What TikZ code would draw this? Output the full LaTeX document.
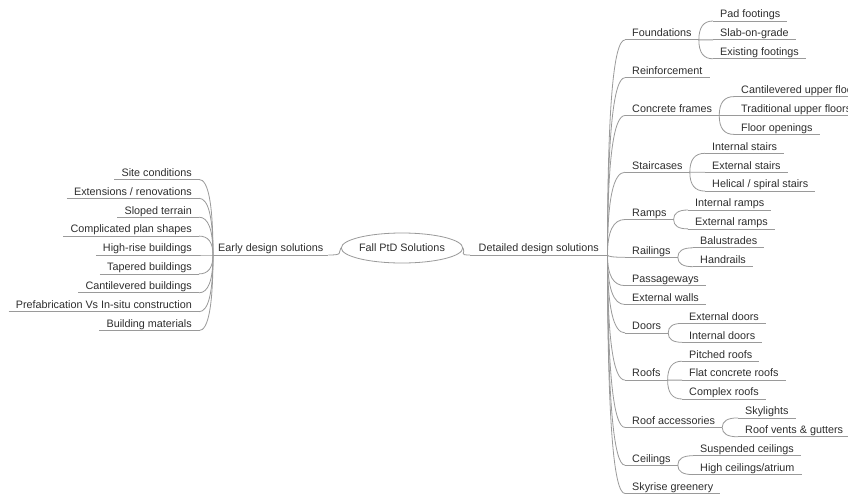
\documentclass[tikz,border=0pt]{standalone}
\usepackage{fontspec}
\setmainfont{Liberation Sans}
\usetikzlibrary{shapes.geometric,calc}
\definecolor{tc}{HTML}{2E2E2E}
\definecolor{lc}{HTML}{9A9A9A}
\tikzset{
  lbl/.style={font=\fontsize{10.8}{13}\selectfont, text=tc, inner xsep=7pt, inner ysep=0pt, text height=8pt, text depth=3pt},
  lft/.style={lbl, anchor=south east},
  rgt/.style={lbl, anchor=south west},
  ln/.style={draw=lc, line width=0.8pt},
  br/.style={to path={.. controls ($(\tikztostart)!0.67!(\tikztostart|-\tikztotarget)$) and ($(\tikztotarget)!0.67!(\tikztostart|-\tikztotarget)$) .. (\tikztotarget)}},
}
\begin{document}
\begin{tikzpicture}[x=1pt,y=-1pt]
\fill[white] (0,0) rectangle (848,495);
\useasboundingbox (0,0) rectangle (848,495);
\begin{scope}
\clip (0,0) rectangle (848,495);
% root
\node[draw=lc, line width=0.8pt, ellipse, minimum width=104pt, minimum height=30pt, inner sep=0pt,
      font=\fontsize{10.8}{13}\selectfont, text=tc] (root) at (402,248) {Fall PtD Solutions};
\node[rgt, inner xsep=5pt] (early) at (213,255) {Early design solutions};
\node[rgt, inner xsep=8.5pt] (det) at (470,255) {Detailed design solutions};

% left
\node[lft] (l1) at (199,179.4) {Site conditions};
\node[lft] (l2) at (199,198.3) {Extensions / renovations};
\node[lft] (l3) at (199,217.2) {Sloped terrain};
\node[lft] (l4) at (199,236.1) {Complicated plan shapes};
\node[lft] (l5) at (199,255.0) {High-rise buildings};
\node[lft] (l6) at (199,273.9) {Tapered buildings};
\node[lft] (l7) at (199,292.8) {Cantilevered buildings};
\node[lft] (l8) at (199,311.7) {Prefabrication Vs In-situ construction};
\node[lft] (l9) at (199,330.6) {Building materials};

% right main
\node[rgt] (fo) at (625,39.9) {Foundations};
\node[rgt] (re) at (625,77.7) {Reinforcement};
\node[rgt] (cf) at (625,115.5) {Concrete frames};
\node[rgt] (st) at (625,172.2) {Staircases};
\node[rgt] (ra) at (625,219.5) {Ramps};
\node[rgt] (rl) at (625,257.3) {Railings};
\node[rgt] (pa) at (625,285.6) {Passageways};
\node[rgt] (ew) at (625,304.5) {External walls};
\node[rgt] (do) at (625,332.9) {Doors};
\node[rgt] (ro) at (625,380.1) {Roofs};
\node[rgt] (rc) at (625,427.4) {Roof accessories};
\node[rgt] (ce) at (625,465.2) {Ceilings};
\node[rgt] (sk) at (625,493.5) {Skyrise greenery};

% sub children
\node[rgt] (fo1) at (713,21.0) {Pad footings};
\node[rgt] (fo2) at (713,39.9) {Slab-on-grade};
\node[rgt] (fo3) at (713,58.8) {Existing footings};
\node[rgt] (cf1) at (734,96.6) {Cantilevered upper floors};
\node[rgt] (cf2) at (734,115.5) {Traditional upper floors};
\node[rgt] (cf3) at (734,134.4) {Floor openings};
\node[rgt] (st1) at (705,153.3) {Internal stairs};
\node[rgt] (st2) at (705,172.2) {External stairs};
\node[rgt] (st3) at (705,191.1) {Helical / spiral stairs};
\node[rgt] (ra1) at (688,210.0) {Internal ramps};
\node[rgt] (ra2) at (688,228.9) {External ramps};
\node[rgt] (rl1) at (693,247.8) {Balustrades};
\node[rgt] (rl2) at (693,266.7) {Handrails};
\node[rgt] (do1) at (682,323.4) {External doors};
\node[rgt] (do2) at (682,342.3) {Internal doors};
\node[rgt] (ro1) at (682,361.2) {Pitched roofs};
\node[rgt] (ro2) at (682,380.1) {Flat concrete roofs};
\node[rgt] (ro3) at (682,399.0) {Complex roofs};
\node[rgt] (rc1) at (738,417.9) {Skylights};
\node[rgt] (rc2) at (738,436.8) {Roof vents \& gutters};
\node[rgt] (ce1) at (693,455.7) {Suspended ceilings};
\node[rgt] (ce2) at (693,474.6) {High ceilings/atrium};

% underlines
\foreach \n in {early,det,l1,l2,l3,l4,l5,l6,l7,l8,l9,fo,re,cf,st,ra,rl,pa,ew,do,ro,rc,ce,sk,
  fo1,fo2,fo3,cf1,cf2,cf3,st1,st2,st3,ra1,ra2,rl1,rl2,do1,do2,ro1,ro2,ro3,rc1,rc2,ce1,ce2}
  \draw[ln] (\n.south west) -- (\n.south east);

% root connectors
\draw[ln] (early.south east) .. controls +(15,0) and +(-3,5) .. (root.west);
\draw[ln] (root.east) .. controls +(3,5) and +(-12,0) .. (det.south west);

% left branches
\foreach \n in {l1,l2,l3,l4,l5,l6,l7,l8,l9}
  \draw[ln,br] (early.south west) to (\n.south east);

% right branches
\foreach \n in {fo,re,cf,st,ra,rl,pa,ew,do,ro,rc,ce,sk}
  \draw[ln,br] (det.south east) to (\n.south west);

% sub branches
\foreach \p/\c in {fo/fo1,fo/fo2,fo/fo3,cf/cf1,cf/cf2,cf/cf3,st/st1,st/st2,st/st3,
  ra/ra1,ra/ra2,rl/rl1,rl/rl2,do/do1,do/do2,ro/ro1,ro/ro2,ro/ro3,rc/rc1,rc/rc2,ce/ce1,ce/ce2}
  \draw[ln,br] (\p.south east) to (\c.south west);
\end{scope}
\end{tikzpicture}
\end{document}
